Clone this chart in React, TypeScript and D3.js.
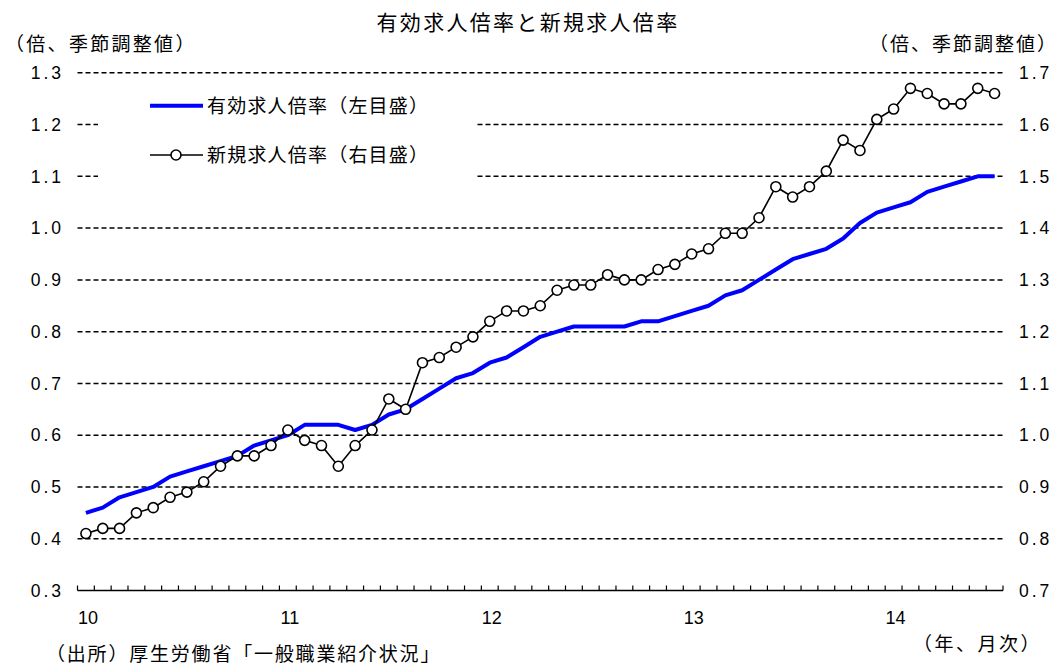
import React from "react";
import * as d3 from "d3";

// Monthly series, Jan 2010 – Jul 2014 (seasonally adjusted)
const years = [2010, 2011, 2012, 2013, 2014];
const yearLabels = ["10", "11", "12", "13", "14"];
const lastYearMonths = 7;

// 有効求人倍率 (left axis)
const effectiveRatio = [
  0.45, 0.46, 0.48, 0.49, 0.5, 0.52, 0.53, 0.54, 0.55, 0.56, 0.58, 0.59,
  0.6, 0.62, 0.62, 0.62, 0.61, 0.62, 0.64, 0.65, 0.67, 0.69, 0.71, 0.72,
  0.74, 0.75, 0.77, 0.79, 0.8, 0.81, 0.81, 0.81, 0.81, 0.82, 0.82, 0.83,
  0.84, 0.85, 0.87, 0.88, 0.9, 0.92, 0.94, 0.95, 0.96, 0.98, 1.01, 1.03,
  1.04, 1.05, 1.07, 1.08, 1.09, 1.1, 1.1,
];

// 新規求人倍率 (right axis)
const newRatio = [
  0.81, 0.82, 0.82, 0.85, 0.86, 0.88, 0.89, 0.91, 0.94, 0.96, 0.96, 0.98,
  1.01, 0.99, 0.98, 0.94, 0.98, 1.01, 1.07, 1.05, 1.14, 1.15, 1.17, 1.19,
  1.22, 1.24, 1.24, 1.25, 1.28, 1.29, 1.29, 1.31, 1.3, 1.3, 1.32, 1.33,
  1.35, 1.36, 1.39, 1.39, 1.42, 1.48, 1.46, 1.48, 1.51, 1.57, 1.55, 1.61,
  1.63, 1.67, 1.66, 1.64, 1.64, 1.67, 1.66,
];

const leftTicks = [0.3, 0.4, 0.5, 0.6, 0.7, 0.8, 0.9, 1.0, 1.1, 1.2, 1.3];
const rightTicks = [0.7, 0.8, 0.9, 1.0, 1.1, 1.2, 1.3, 1.4, 1.5, 1.6, 1.7];

const title = "有効求人倍率と新規求人倍率";
const unitLabel = "（倍、季節調整値）";
const xUnitLabel = "（年、月次）";
const sourceLabel = "（出所）厚生労働省「一般職業紹介状況」";
const legendEffective = "有効求人倍率（左目盛）";
const legendNew = "新規求人倍率（右目盛）";

const W = 1061;
const H = 668;
const CJK = "'Noto Sans CJK JP', 'Noto Sans', sans-serif";
const NUM = "'Liberation Sans', Arial, sans-serif";

export default function App() {
  const monthCount = (years.length - 1) * 12 + lastYearMonths;
  const x = d3.scaleLinear().domain([0, monthCount]).range([77.5, 1003]);
  const px = (i: number) => x(i + 0.5);
  const yL = d3.scaleLinear().domain([0.3, 1.3]).range([590.5, 72.8]);
  const yR = d3.scaleLinear().domain([0.7, 1.7]).range([590.5, 72.8]);

  const blueLine = d3
    .line<number>()
    .x((_, i) => px(i))
    .y((d) => yL(d))(effectiveRatio) as string;
  const blackLine = d3
    .line<number>()
    .x((_, i) => px(i))
    .y((d) => yR(d))(newRatio) as string;

  const [x0, x1] = x.range();
  const tickIdx = d3.range(0, monthCount + 1);

  return (
    <svg
      width={W}
      height={H}
      style={{ position: "absolute", left: 0, top: 0, background: "#fff" }}
    >
      <rect width={W} height={H} fill="#fff" />
      <text
        x={528}
        y={30}
        textAnchor="middle"
        fontFamily={CJK}
        fontSize={21}
        letterSpacing={2.3}
        fill="#000"
      >
        {title}
      </text>
      <text x={5} y={51} fontFamily={CJK} fontSize={19} letterSpacing={2.3} fill="#000">
        {unitLabel}
      </text>
      <text x={1058} y={51} textAnchor="end" fontFamily={CJK} fontSize={19} letterSpacing={2} fill="#000">
        {unitLabel}
      </text>

      {/* dashed grid */}
      {leftTicks.slice(1).map((t) => (
        <line
          key={t}
          x1={x0}
          x2={x1}
          y1={yL(t)}
          y2={yL(t)}
          stroke="#000"
          strokeWidth={1.5}
          strokeDasharray="5,3"
        />
      ))}

      {/* left ticks */}
      {leftTicks.map((t) => (
        <text
          key={t}
          x={64}
          y={yL(t)}
          dy="0.36em"
          textAnchor="end"
          fontFamily={NUM}
          fontSize={17.5}
          letterSpacing={3}
          fill="#000"
        >
          {t.toFixed(1)}
        </text>
      ))}
      {/* right ticks */}
      {rightTicks.map((t) => (
        <text
          key={t}
          x={1019}
          y={yR(t)}
          dy="0.36em"
          fontFamily={NUM}
          fontSize={17.5}
          letterSpacing={3}
          fill="#000"
        >
          {t.toFixed(1)}
        </text>
      ))}

      {/* legend */}
      <rect x={98} y={88} width={379} height={98} fill="#fff" />
      <line x1={150} x2={203} y1={105.7} y2={105.7} stroke="#0000ff" strokeWidth={4} />
      <text x={207} y={113} fontFamily={CJK} fontSize={19} letterSpacing={1.2} fill="#000">
        {legendEffective}
      </text>
      <line x1={150} x2={203} y1={155} y2={155} stroke="#000" strokeWidth={1.6} />
      <circle cx={176} cy={155} r={5} fill="#fff" stroke="#000" strokeWidth={1.6} />
      <text x={207} y={162} fontFamily={CJK} fontSize={19} letterSpacing={1.2} fill="#000">
        {legendNew}
      </text>

      {/* x axis */}
      <line x1={x0} x2={x1} y1={590.5} y2={590.5} stroke="#000" strokeWidth={1.6} />
      {tickIdx.map((k) => (
        <line
          key={k}
          x1={x(k)}
          x2={x(k)}
          y1={590.5}
          y2={585.5}
          stroke="#000"
          strokeWidth={1.2}
        />
      ))}
      {yearLabels.map((lab, j) => (
        <text
          key={lab}
          x={px(j * 12) + 2}
          y={623.5}
          textAnchor="middle"
          fontFamily={NUM}
          fontSize={18}
          fill="#000"
        >
          {lab}
        </text>
      ))}

      {/* series */}
      <path d={blueLine} fill="none" stroke="#0000ff" strokeWidth={4} strokeLinejoin="round" />
      <path d={blackLine} fill="none" stroke="#000" strokeWidth={1.6} />
      {newRatio.map((v, i) => (
        <circle key={i} cx={px(i)} cy={yR(v)} r={5} fill="#fff" stroke="#000" strokeWidth={1.6} />
      ))}

      <text x={913} y={651} fontFamily={CJK} fontSize={19} letterSpacing={2.5} fill="#000">
        {xUnitLabel}
      </text>
      <text x={46} y={661} fontFamily={CJK} fontSize={19} letterSpacing={1.8} fill="#000">
        {sourceLabel}
      </text>
    </svg>
  );
}
